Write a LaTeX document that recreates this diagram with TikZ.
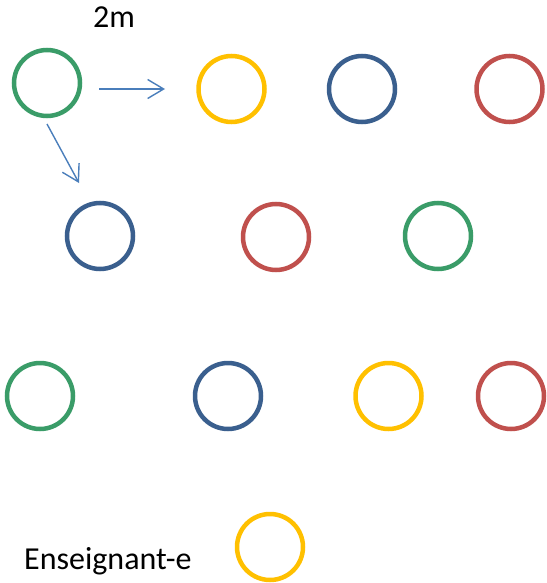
\documentclass[tikz,border=0pt]{standalone}
\usepackage{fontspec}
\setmainfont{Carlito}
\usepackage{tikz}
\usetikzlibrary{arrows.meta}
\definecolor{kidgreen}{HTML}{3A9C68}
\definecolor{kidyellow}{HTML}{FFC000}
\definecolor{kidblue}{HTML}{3A5F8E}
\definecolor{kidred}{HTML}{C0504D}
\definecolor{stepblue}{HTML}{4A7EBB}

\begin{document}
\begin{tikzpicture}[
  x=1pt, y=-1pt,
  kid/.style={circle, draw, line width=4.5pt, minimum size=66pt, inner sep=0pt, fill=white},
  tag/.style={font=\fontsize{32}{38}\selectfont, inner sep=0pt, anchor=base west},
  move/.style={draw=stepblue, line width=1.4pt, -{Straight Barb[length=16pt,width=19pt]}}
]
\useasboundingbox (0,0) rectangle (546,583);

\node[kid, draw=kidgreen]  (g1) at (47,83) {};
\node[kid, draw=kidyellow] (y1) at (231.5,89) {};
\node[kid, draw=kidblue]   (b1) at (362,89) {};
\node[kid, draw=kidred]    (r1) at (509.5,89) {};

\node[kid, draw=kidblue]   (b2) at (100,236) {};
\node[kid, draw=kidred]    (r2) at (276,237) {};
\node[kid, draw=kidgreen]  (g2) at (438,236) {};

\node[kid, draw=kidgreen]  (g3) at (40,396) {};
\node[kid, draw=kidblue]   (b3) at (228,396) {};
\node[kid, draw=kidyellow] (y3) at (388.5,396) {};
\node[kid, draw=kidred]    (r3) at (511,396) {};

\node[kid, draw=kidyellow] (teacher) at (270,547) {};

\node[tag] (dist) at (93,28) {2m};
\node[tag] (who) at (24,569) {Enseignant-e};

\coordinate (h0) at (99,89);
\coordinate (h1) at (165,89);
\coordinate (d0) at (47,124);
\coordinate (d1) at (79,183);
\draw[move] (h0) -- (h1);
\draw[move] (d0) -- (d1);
\end{tikzpicture}
\end{document}
